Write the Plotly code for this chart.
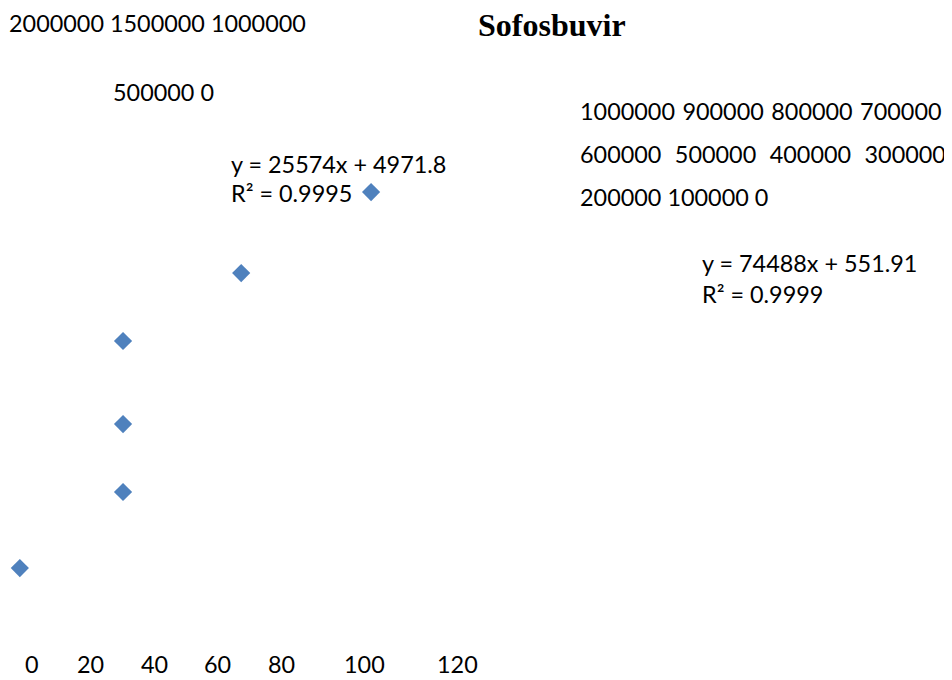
import plotly.graph_objects as go

# ---- data ----
title_text = "Sofosbuvir"
x_values = [-3.7, 25.3, 25.3, 25.3, 58.5, 95.0]
y_values = [142000, 480000, 782000, 1151000, 1453000, 1813000]
x_tick_labels = ["0", "20", "40", "60", "80", "100", "120"]
left_y_tick_lines = ["2000000 1500000 1000000", "500000 0"]
right_y_tick_lines = ["1000000 \u200a900000 \u200a800000 \u200a700000",
                      "600000\u00a0 \u200a500000\u00a0 \u200a400000\u00a0 \u200a300000",
                      "200000 100000 0"]
eq_left = ["y = 25574x + 4971.8", "R² = 0.9995"]
eq_right = ["y = 74488x + 551.91", "R² = 0.9999"]

# ---- layout ----
W, H = 952, 672
OFF = 8  # page body margin
FONT = "Lato, 'Open Sans', sans-serif"
FS = 23.4

def px(x):
    return (x - OFF) / W

def py(y):
    return 1 - (y - OFF) / H

fig = go.Figure()
fig.add_trace(go.Scatter(
    x=x_values, y=y_values, mode="markers",
    marker=dict(symbol="diamond", size=14, color="#4f81bd",
                line=dict(width=0)),
    showlegend=False, hoverinfo="x+y"))

ann = []
def text(t, x, y, xanchor="left", size=FS, family=FONT):
    ann.append(dict(text=t, x=px(x), y=py(y), xref="paper", yref="paper",
                    xanchor=xanchor, yanchor="middle", showarrow=False,
                    font=dict(family=family, size=size, color="#000000")))

text("<b>" + title_text + "</b>", 552, 25, xanchor="center", size=32,
     family="'Liberation Serif', 'Times New Roman', serif")

text(left_y_tick_lines[0], 7, 23)
text(left_y_tick_lines[1], 111, 92)
for t, yy in zip(right_y_tick_lines, [111, 154, 197]):
    text(t, 578, yy)
text(eq_left[0], 229, 164)
text(eq_left[1], 229, 193)
text(eq_right[0], 700, 263)
text(eq_right[1], 700, 294)
for t, xx in zip(x_tick_labels, [32, 90, 154, 217, 281, 364, 457]):
    text(t, xx, 664, xanchor="center")

# y range scaled with height so data pixels stay put (2.25e-4 px per unit)
y_top = 2631111
y_bot = y_top - H / 2.25e-4

fig.update_layout(
    width=W, height=H, autosize=False,
    margin=dict(l=0, r=0, t=0, b=0),
    paper_bgcolor="white", plot_bgcolor="white",
    xaxis=dict(visible=False, range=[-7.027, 260.5], domain=[0, 1]),
    yaxis=dict(visible=False, range=[y_bot, y_top], domain=[0, 1]),
    annotations=ann,
)

fig.write_html("out.html")
